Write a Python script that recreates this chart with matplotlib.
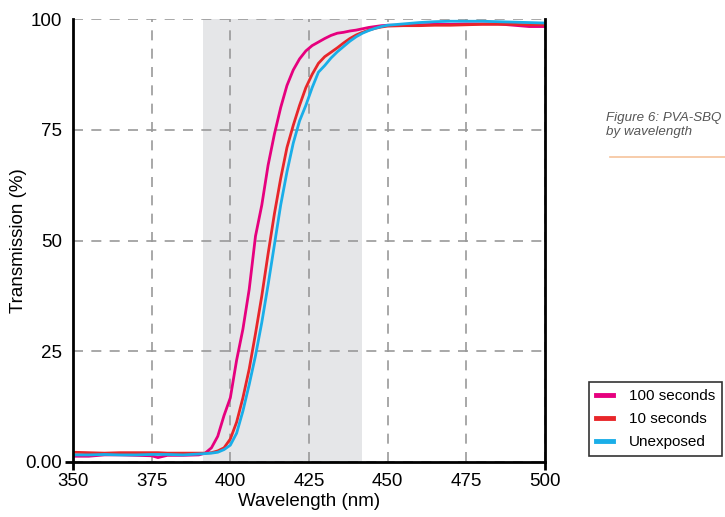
import matplotlib
matplotlib.use("Agg")
import matplotlib.pyplot as plt
from matplotlib.lines import Line2D

plt.rcParams['font.family'] = ['Liberation Sans', 'DejaVu Sans']

# wavelength grid (nm)
wavelength = [350, 355, 360, 365, 370, 375, 377, 380, 385, 390,
              392, 394, 396, 398, 400, 402, 404, 406, 408, 410,
              412, 414, 416, 418, 420, 422, 424, 426, 428, 430,
              432, 434, 436, 438, 440, 442, 444, 446, 448, 450,
              455, 460, 465, 470, 475, 480, 485, 490, 495, 500]

t_100s = [1.3, 1.3, 1.6, 1.6, 1.5, 1.4, 1.0, 1.5, 1.5, 1.6,
          2.0, 3.2, 5.8, 10.5, 14.5, 23.0, 30.0, 39.0, 51.0, 58.0,
          67.0, 74.0, 80.0, 85.0, 88.5, 91.0, 92.8, 94.0, 94.8, 95.6,
          96.3, 96.8, 97.0, 97.3, 97.5, 97.8, 98.1, 98.3, 98.5, 98.6,
          98.6, 98.7, 98.8, 98.8, 98.9, 98.9, 98.9, 98.6, 98.3, 98.3]

t_10s = [2.2, 2.1, 2.0, 2.1, 2.1, 2.1, 2.1, 2.0, 2.0, 2.0,
         2.0, 2.1, 2.5, 3.2, 5.2, 9.0, 14.5, 21.0, 29.0, 37.5,
         47.0, 56.0, 64.0, 71.0, 76.0, 80.5, 84.5, 87.5, 90.0, 91.5,
         92.5, 93.5, 94.6, 95.6, 96.4, 97.0, 97.5, 97.9, 98.2, 98.4,
         98.5, 98.5, 98.6, 98.6, 98.7, 98.8, 98.8, 98.8, 98.7, 98.7]

t_unexposed = [1.6, 1.6, 1.7, 1.6, 1.6, 1.7, 1.7, 1.7, 1.6, 1.8,
               1.9, 2.0, 2.2, 2.8, 3.8, 6.5, 11.5, 17.5, 24.0, 31.5,
               40.0, 49.0, 58.0, 65.5, 72.0, 77.0, 80.5, 84.5, 88.0, 89.5,
               91.2, 92.6, 93.8, 95.0, 96.0, 96.8, 97.4, 97.9, 98.3, 98.6,
               98.9, 99.2, 99.4, 99.5, 99.5, 99.5, 99.4, 99.3, 99.2, 99.1]

series = ["100 seconds", "10 seconds", "Unexposed"]
colors = ["#e6007e", "#e8262a", "#1aaee8"]

band = (391.3, 441.8)
xticks = [350, 375, 400, 425, 450, 475, 500]
yticks = [0, 25, 50, 75, 100]
yticklabels = ["0.00", "25", "50", "75", "100"]

fig = plt.figure(figsize=(7.25, 5.17), dpi=100)
ax = fig.add_axes([0.1007, 0.1064, 0.651, 0.8568])

ax.axvspan(band[0], band[1], color="#e5e6e8", zorder=0, lw=0)

for y, lab, c in zip([t_100s, t_10s, t_unexposed], series, colors):
    ax.plot(wavelength, y, color=c, lw=2.0, label=lab, zorder=3)

ax.set_xlim(350, 500)
ax.set_ylim(0, 100)
ax.set_xticks(xticks)
ax.set_yticks(yticks)
ax.set_yticklabels(yticklabels)
ax.grid(True, color="#999999", lw=1.2, linestyle=(0, (6, 5)), zorder=1)
ax.set_axisbelow(True)

ax.spines["top"].set_visible(False)
for s in ["left", "bottom", "right"]:
    ax.spines[s].set_linewidth(2)
    ax.spines[s].set_color("black")
    ax.spines[s].set_zorder(4)

ax.tick_params(labelsize=13.5, length=6, width=2, color="black", pad=2)
for t in ax.xaxis.get_major_ticks()[1:-1]:
    t.tick1line.set_visible(False)
for t in ax.yaxis.get_major_ticks()[1:]:
    t.tick1line.set_visible(False)

ax.set_xlabel("Wavelength (nm)", fontsize=13.5, labelpad=2)
ax.set_ylabel("Transmission (%)", fontsize=13.5)
ax.yaxis.set_label_coords(-0.097, 0.5)

leg = ax.legend(loc="upper left", bbox_to_anchor=(0.8124, 0.261),
                bbox_transform=fig.transFigure, fontsize=11,
                frameon=True, fancybox=False, edgecolor="black",
                handlelength=1.1, handletextpad=1.05, borderpad=0.45,
                labelspacing=0.6, borderaxespad=0)
leg.get_frame().set_linewidth(1.2)
for h in leg.get_lines():
    h.set_linewidth(3.5)

fig.text(0.836, 0.784, "Figure 6: PVA-SBQ\nby wavelength",
         fontsize=9.6, style="italic", color="#555555", va="top", ha="left",
         linespacing=1.25)
fig.add_artist(Line2D([0.842, 1.0], [1 - 157 / 517, 1 - 157 / 517],
                      color="#f6c39c", lw=1.2))

fig.savefig("out.png", dpi=100)
